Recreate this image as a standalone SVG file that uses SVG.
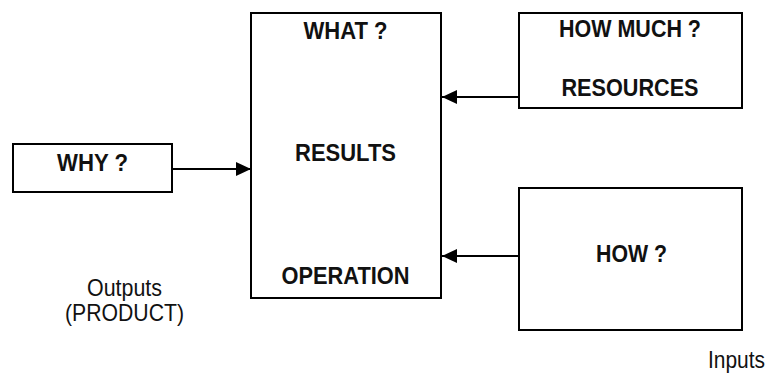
<svg xmlns="http://www.w3.org/2000/svg" width="767" height="374" viewBox="0 0 767 374">
<style>
.box{fill:#fff;stroke:#000;stroke-width:2}
.b{font-family:"Liberation Sans",Arial,sans-serif;font-weight:bold;font-size:24px;fill:#111;text-anchor:middle}
.r{font-family:"Liberation Sans",Arial,sans-serif;font-size:24px;fill:#111;text-anchor:middle}
.c{stroke:#000;stroke-width:2;fill:none}
</style>
<defs>
<marker id="ah" markerUnits="userSpaceOnUse" markerWidth="16" markerHeight="16" viewBox="0 0 16 16" refX="15" refY="8" orient="auto">
<path d="M0,1 L15,8 L0,15 Z" fill="#000"/>
</marker>
</defs>
<rect width="767" height="374" fill="#fff"/>
<g id="connectors">
<line class="c" x1="172" y1="169" x2="251" y2="169" marker-end="url(#ah)"/>
<line class="c" x1="519" y1="97" x2="442" y2="97" marker-end="url(#ah)"/>
<line class="c" x1="519" y1="256" x2="442" y2="256" marker-end="url(#ah)"/>
</g>
<g id="why">
<rect class="box" x="13" y="144" width="159" height="48"/>
<text class="b" x="92.5" y="171" textLength="71" lengthAdjust="spacingAndGlyphs">WHY ?</text>
</g>
<g id="main">
<rect class="box" x="251" y="13" width="190" height="285"/>
<text class="b" x="345.5" y="39" textLength="84" lengthAdjust="spacingAndGlyphs">WHAT ?</text>
<text class="b" x="345.5" y="161" textLength="101" lengthAdjust="spacingAndGlyphs">RESULTS</text>
<text class="b" x="345.5" y="284" textLength="128" lengthAdjust="spacingAndGlyphs">OPERATION</text>
</g>
<g id="howmuch">
<rect class="box" x="519" y="13" width="223" height="95"/>
<text class="b" x="630" y="37" textLength="142" lengthAdjust="spacingAndGlyphs">HOW MUCH ?</text>
<text class="b" x="630" y="96" textLength="137" lengthAdjust="spacingAndGlyphs">RESOURCES</text>
</g>
<g id="how">
<rect class="box" x="519" y="188" width="223" height="142"/>
<text class="b" x="631.5" y="262" textLength="71" lengthAdjust="spacingAndGlyphs">HOW ?</text>
</g>
<g id="labels">
<text class="r" x="124.5" y="296" textLength="75" lengthAdjust="spacingAndGlyphs">Outputs</text>
<text class="r" x="124.5" y="321" textLength="119" lengthAdjust="spacingAndGlyphs">(PRODUCT)</text>
<text class="r" x="708" y="368" style="text-anchor:start" textLength="57" lengthAdjust="spacingAndGlyphs">Inputs</text>
</g>
</svg>
